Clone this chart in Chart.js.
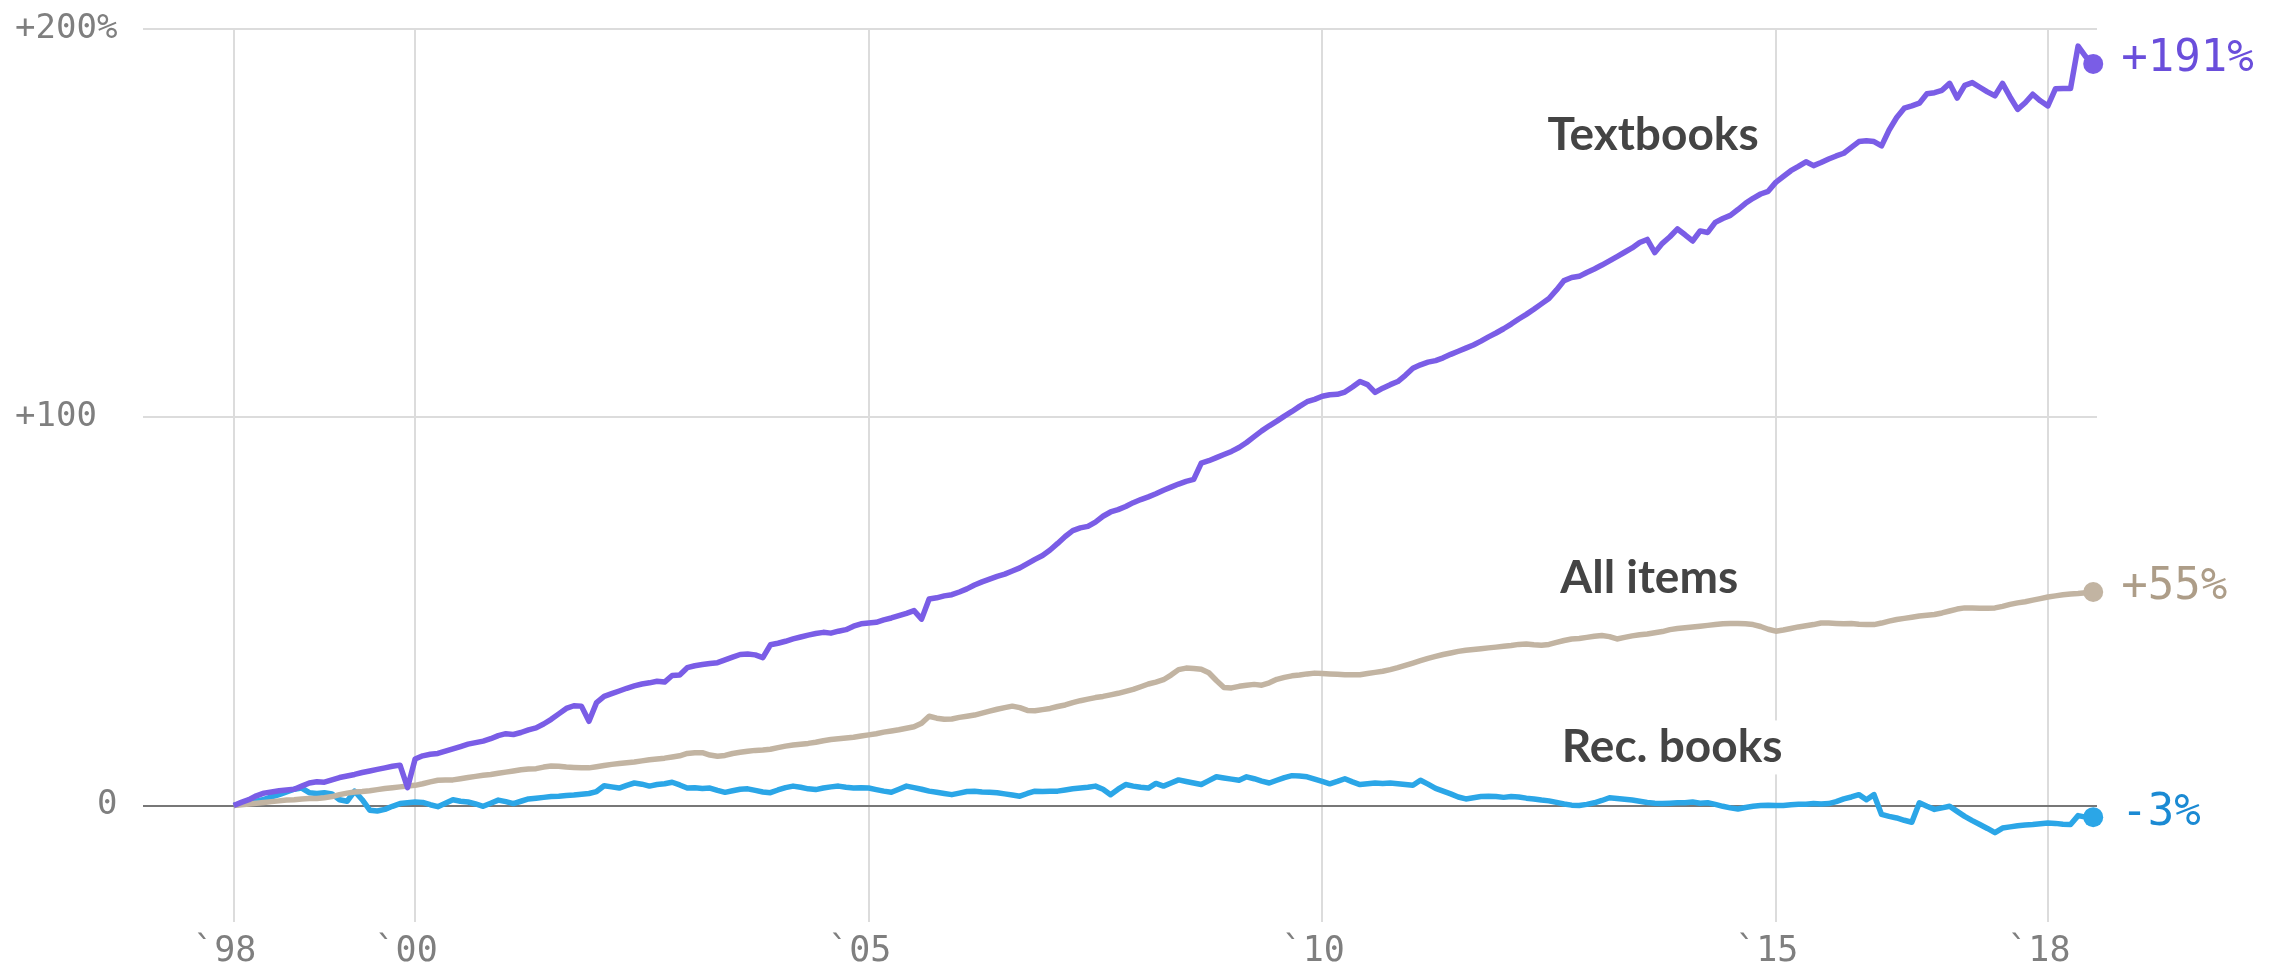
<!DOCTYPE html>
<html>
<head>
<meta charset="utf-8">
<script src="https://cdn.jsdelivr.net/npm/chart.js@4.4.1/dist/chart.umd.min.js"></script>
<style>
  html, body { margin: 0; padding: 0; background: #fff; }
  #wrap { width: 2294px; height: 968px; position: relative; }
</style>
</head>
<body>
<div id="wrap"><canvas id="chart"></canvas></div>
<script>
// Price change since Jan 1998, in %, one value per month (Jan 1998 .. Jul 2018)
const textbooks = [
  0, 0.8, 1.5, 2.5, 3.2, 3.5, 3.8, 4.0, 4.2, 5.0, 5.8, 6.1,
  6.0, 6.6, 7.2, 7.6, 8.0, 8.5, 8.9, 9.3, 9.7, 10.1, 10.4, 4.6,
  12.0, 12.8, 13.2, 13.4, 14.0, 14.6, 15.2, 15.8, 16.2, 16.6, 17.2, 18.0,
  18.5, 18.3, 18.8, 19.5, 20.0, 21.0, 22.2, 23.6, 25.0, 25.7, 25.6, 21.7,
  26.5, 28.1, 28.8, 29.5, 30.2, 30.8, 31.3, 31.6, 32.0, 31.8, 33.5, 33.6,
  35.5, 36.0, 36.3, 36.6, 36.8, 37.5, 38.2, 38.9, 39.0, 38.8, 38.1, 41.4,
  41.8, 42.3, 42.9, 43.4, 43.9, 44.3, 44.6, 44.4, 44.9, 45.3, 46.2, 46.8,
  47.0, 47.2, 47.8, 48.3, 48.9, 49.5, 50.2, 48.0, 53.2, 53.5, 54.0, 54.3,
  55.0, 55.8, 56.8, 57.6, 58.3, 59.0, 59.6, 60.4, 61.2, 62.3, 63.4, 64.4,
  65.8, 67.5, 69.3, 70.8, 71.5, 71.9, 73.0, 74.5, 75.6, 76.2, 77.0, 78.0,
  78.8, 79.5, 80.3, 81.2, 82.0, 82.8, 83.5, 84.0, 88.2, 88.8, 89.6, 90.4,
  91.2, 92.2, 93.5, 95.0, 96.5, 97.8, 99.0, 100.3, 101.5, 102.8, 104.0, 104.6,
  105.4, 105.8, 105.9, 106.5, 107.8, 109.2, 108.4, 106.4, 107.5, 108.4, 109.2, 110.8,
  112.6, 113.5, 114.2, 114.6, 115.3, 116.2, 117.0, 117.8, 118.6, 119.6, 120.7, 121.7,
  122.8, 124.0, 125.3, 126.5, 127.8, 129.2, 130.6, 132.8, 135.2, 136.0, 136.3, 137.3,
  138.2, 139.2, 140.3, 141.4, 142.5, 143.6, 145.0, 145.8, 142.4, 144.8, 146.5, 148.5,
  147.0, 145.4, 148.0, 147.6, 150.2, 151.2, 152.0, 153.5, 155.1, 156.4, 157.5, 158.2,
  160.5, 162.0, 163.5, 164.6, 165.8, 164.8, 165.6, 166.5, 167.3, 168.0, 169.5, 171.0,
  171.2, 171.0, 169.9, 174.0, 177.2, 179.6, 180.2, 180.9, 183.3, 183.6, 184.2, 186.0,
  182.2, 185.5, 186.2, 185.0, 183.8, 182.8, 186.0, 182.5, 179.3, 181.0, 183.2, 181.5,
  180.2, 184.6, 184.7, 184.7, 195.6, 192.9, 191.0
];

const allItems = [
  0, 0.2, 0.4, 0.6, 0.8, 1.0, 1.2, 1.4, 1.5, 1.7, 1.8, 1.8,
  2.0, 2.3, 2.8, 3.2, 3.5, 3.6, 3.8, 4.1, 4.4, 4.6, 4.8, 5.0,
  5.2, 5.6, 6.1, 6.5, 6.6, 6.6, 6.9, 7.2, 7.5, 7.8, 8.0, 8.3,
  8.6, 8.9, 9.2, 9.4, 9.5, 9.9, 10.2, 10.1, 9.9, 9.8, 9.7, 9.7,
  10.0, 10.3, 10.6, 10.8, 11.0, 11.2, 11.5, 11.8, 12.0, 12.2, 12.5, 12.8,
  13.4, 13.6, 13.6, 13.0, 12.7, 12.9, 13.4, 13.7, 14.0, 14.2, 14.3, 14.5,
  14.9, 15.3, 15.6, 15.8, 16.0, 16.3, 16.7, 17.0, 17.2, 17.4, 17.6, 17.9,
  18.2, 18.5, 18.9, 19.2, 19.5, 19.9, 20.3, 21.2, 23.0, 22.5, 22.2, 22.3,
  22.7, 23.0, 23.3, 23.8, 24.3, 24.8, 25.2, 25.6, 25.2, 24.5, 24.4, 24.7,
  25.0, 25.5, 25.9, 26.5, 27.0, 27.4, 27.8, 28.1, 28.5, 28.9, 29.4, 29.9,
  30.6, 31.3, 31.8, 32.4, 33.6, 35.0, 35.4, 35.3, 35.1, 34.2, 32.2, 30.4,
  30.3, 30.7, 31.0, 31.2, 31.0, 31.6, 32.5, 33.0, 33.4, 33.6, 33.9, 34.1,
  34.0, 33.9, 33.8, 33.7, 33.7, 33.7, 34.0, 34.3, 34.6, 35.0, 35.5, 36.1,
  36.7, 37.3, 37.9, 38.4, 38.9, 39.3, 39.7, 40.0, 40.2, 40.4, 40.6, 40.8,
  41.0, 41.2, 41.5, 41.6, 41.4, 41.3, 41.5, 42.0, 42.5, 42.9, 43.0, 43.3,
  43.6, 43.8, 43.5, 42.9, 43.3, 43.7, 44.0, 44.2, 44.5, 44.8, 45.3, 45.6,
  45.8, 46.0, 46.2, 46.4, 46.6, 46.8, 46.9, 46.9, 46.8, 46.6, 46.1, 45.4,
  44.9, 45.2, 45.6, 46.0, 46.3, 46.6, 47.0, 47.0, 46.9, 46.8, 46.9, 46.7,
  46.6, 46.6, 47.0, 47.5, 47.9, 48.2, 48.5, 48.8, 49.0, 49.2, 49.6, 50.1,
  50.6, 50.9, 50.9, 50.8, 50.8, 50.9, 51.3, 51.8, 52.2, 52.5, 52.9, 53.3,
  53.7, 54.0, 54.3, 54.5, 54.6, 54.8, 55.0
];

const recBooks = [
  0, 0.5, 0.8, 1.1, 1.6, 2.2, 2.8, 3.5, 4.2, 4.5, 3.3, 3.1,
  3.3, 3.0, 1.5, 1.1, 3.7, 1.5, -1.2, -1.4, -1.0, -0.2, 0.5, 0.7,
  0.9, 0.8, 0.2, -0.3, 0.6, 1.5, 1.1, 0.9, 0.4, -0.2, 0.6, 1.4,
  1.0, 0.5, 1.1, 1.7, 1.9, 2.1, 2.3, 2.4, 2.6, 2.7, 2.9, 3.1,
  3.6, 5.1, 4.8, 4.5, 5.2, 5.8, 5.5, 5.0, 5.4, 5.6, 6.0, 5.3,
  4.5, 4.6, 4.4, 4.5, 3.9, 3.4, 3.8, 4.2, 4.3, 3.9, 3.5, 3.3,
  4.0, 4.6, 5.0, 4.7, 4.3, 4.1, 4.5, 4.8, 5.0, 4.7, 4.5, 4.6,
  4.5, 4.1, 3.7, 3.4, 4.2, 5.0, 4.6, 4.2, 3.7, 3.4, 3.1, 2.8,
  3.2, 3.6, 3.7, 3.5, 3.4, 3.3, 3.0, 2.7, 2.4, 3.1, 3.7, 3.6,
  3.7, 3.7, 4.0, 4.3, 4.5, 4.7, 5.0, 4.2, 2.8, 4.2, 5.4, 5.0,
  4.7, 4.5, 5.7, 5.0, 5.8, 6.6, 6.2, 5.8, 5.4, 6.4, 7.4, 7.1,
  6.8, 6.5, 7.4, 6.9, 6.3, 5.8, 6.5, 7.2, 7.7, 7.6, 7.4, 6.8,
  6.2, 5.6, 6.2, 6.9, 6.1, 5.4, 5.6, 5.8, 5.7, 5.8, 5.6, 5.4,
  5.2, 6.5, 5.5, 4.4, 3.7, 3.0, 2.2, 1.7, 2.0, 2.3, 2.4, 2.3,
  2.1, 2.3, 2.2, 1.9, 1.7, 1.4, 1.2, 0.8, 0.4, 0.1, 0, 0.3,
  0.7, 1.3, 2.0, 1.8, 1.6, 1.4, 1.1, 0.8, 0.6, 0.5, 0.6, 0.7,
  0.7, 0.9, 0.6, 0.7, 0.3, -0.2, -0.6, -0.9, -0.5, -0.2, 0, 0.1,
  0, 0, 0.2, 0.3, 0.3, 0.5, 0.4, 0.5, 1.0, 1.7, 2.2, 2.8,
  1.5, 2.8, -2.3, -2.8, -3.2, -3.8, -4.3, 0.7, -0.2, -1.0, -0.6, -0.2,
  -1.5, -2.8, -3.9, -4.9, -5.9, -7.0, -5.8, -5.5, -5.2, -5.0, -4.9, -4.7,
  -4.5, -4.6, -4.8, -4.9, -2.6, -3.0, -3.0
];

// x axis: months since Jan 1998
const xTickMonths = [0, 24, 84, 144, 204, 240];
const xTickLabels = ['`98', '`00', '`05', '`10', '`15', '`18'];
const yTickValues = [0, 100, 200];
const yTickLabels = ['    0', '+100', '+200%'];

const seriesNames = ['Textbooks', 'All items', 'Rec. books'];
const endLabels = ['+191%', '+55%', '-3%'];
const lineColors = ['#7a5de6', '#c2b4a2', '#2ba6e7'];
const endTextColors = ['#6a4edb', '#ad9d88', '#1b8ad3'];
// where the series names sit, in chart units (month, %)
const nameSpots = [[173.8, 168.9], [175.5, 54.8], [175.7, 11.1]];

const monoFont = '"DejaVu Sans Mono", "Liberation Mono", monospace';

const toPoints = arr => arr.map((v, i) => ({ x: i, y: v }));

// series names inside the plot and end-of-line values
const labelPlugin = {
    id: 'seriesLabels',
    beforeDatasetsDraw(chart) {
        const { ctx, scales: { x, y } } = chart;
        ctx.save();
        ctx.font = '700 46px Lato';
        ctx.textBaseline = 'alphabetic';
        chart.data.datasets.forEach((ds, i) => {
            const px = x.getPixelForValue(nameSpots[i][0]);
            const py = y.getPixelForValue(nameSpots[i][1]);
            const w = ctx.measureText(ds.label).width;
            ctx.fillStyle = '#fff';
            ctx.fillRect(px - 8, py - 42, w + 16, 54);
            ctx.fillStyle = '#444444';
            ctx.fillText(ds.label, px, py);
        });
        ctx.restore();
    },
    afterDatasetsDraw(chart) {
        const { ctx } = chart;
        ctx.save();
        ctx.font = '44px ' + monoFont;
        ctx.textBaseline = 'middle';
        ctx.textAlign = 'left';
        chart.data.datasets.forEach((ds, i) => {
            const meta = chart.getDatasetMeta(i);
            const pt = meta.data[meta.data.length - 1];
            ctx.fillStyle = endTextColors[i];
            ctx.fillText(endLabels[i], pt.x + 28, pt.y - 4);
        });
        ctx.restore();
    }
};

const makeDataset = (label, values, color) => ({
    label: label,
    data: toPoints(values),
    borderColor: color,
    backgroundColor: color,
    borderWidth: 5.5,
    borderJoinStyle: 'round',
    tension: 0,
    clip: false,
    pointRadius: ctx => ctx.dataIndex === values.length - 1 ? 10 : 0,
    pointBorderWidth: 0,
    pointHoverRadius: 0
});

new Chart(document.getElementById('chart'), {
    type: 'line',
    data: {
        datasets: [
            makeDataset(seriesNames[0], textbooks, lineColors[0]),
            makeDataset(seriesNames[1], allItems, lineColors[1]),
            makeDataset(seriesNames[2], recBooks, lineColors[2])
        ]
    },
    options: {
        responsive: true,
        maintainAspectRatio: false,
        animation: false,
        layout: { padding: { top: 29, right: 197, bottom: 0, left: 15 } },
        plugins: {
            legend: { display: false },
            tooltip: { enabled: false }
        },
        scales: {
            x: {
                type: 'linear',
                min: -12,
                max: 246.5,
                afterBuildTicks: s => { s.ticks = xTickMonths.map(v => ({ value: v })); },
                afterFit: s => { s.height = 46; s.paddingLeft = 0; s.paddingRight = 0; },
                border: { display: false },
                grid: { color: '#dcdcdc', lineWidth: 2, drawTicks: false },
                ticks: {
                    autoSkip: false,
                    maxRotation: 0,
                    padding: 9,
                    labelOffset: -9,
                    color: '#7f7f7f',
                    font: { family: monoFont, size: 35 },
                    callback: (v, i) => xTickLabels[i]
                }
            },
            y: {
                min: -30,
                max: 200,
                afterBuildTicks: s => { s.ticks = yTickValues.map(v => ({ value: v })); },
                afterFit: s => { s.width = 128; s.paddingTop = 0; s.paddingBottom = 0; },
                border: { display: false },
                grid: {
                    color: c => (c.tick && c.tick.value === 0) ? '#777777' : '#dcdcdc',
                    lineWidth: 2,
                    drawTicks: false
                },
                ticks: {
                    crossAlign: 'far',
                    padding: 25,
                    color: '#7f7f7f',
                    font: { family: monoFont, size: 34 },
                    callback: (v, i) => yTickLabels[i]
                }
            }
        }
    },
    plugins: [labelPlugin]
});
</script>
</body>
</html>
